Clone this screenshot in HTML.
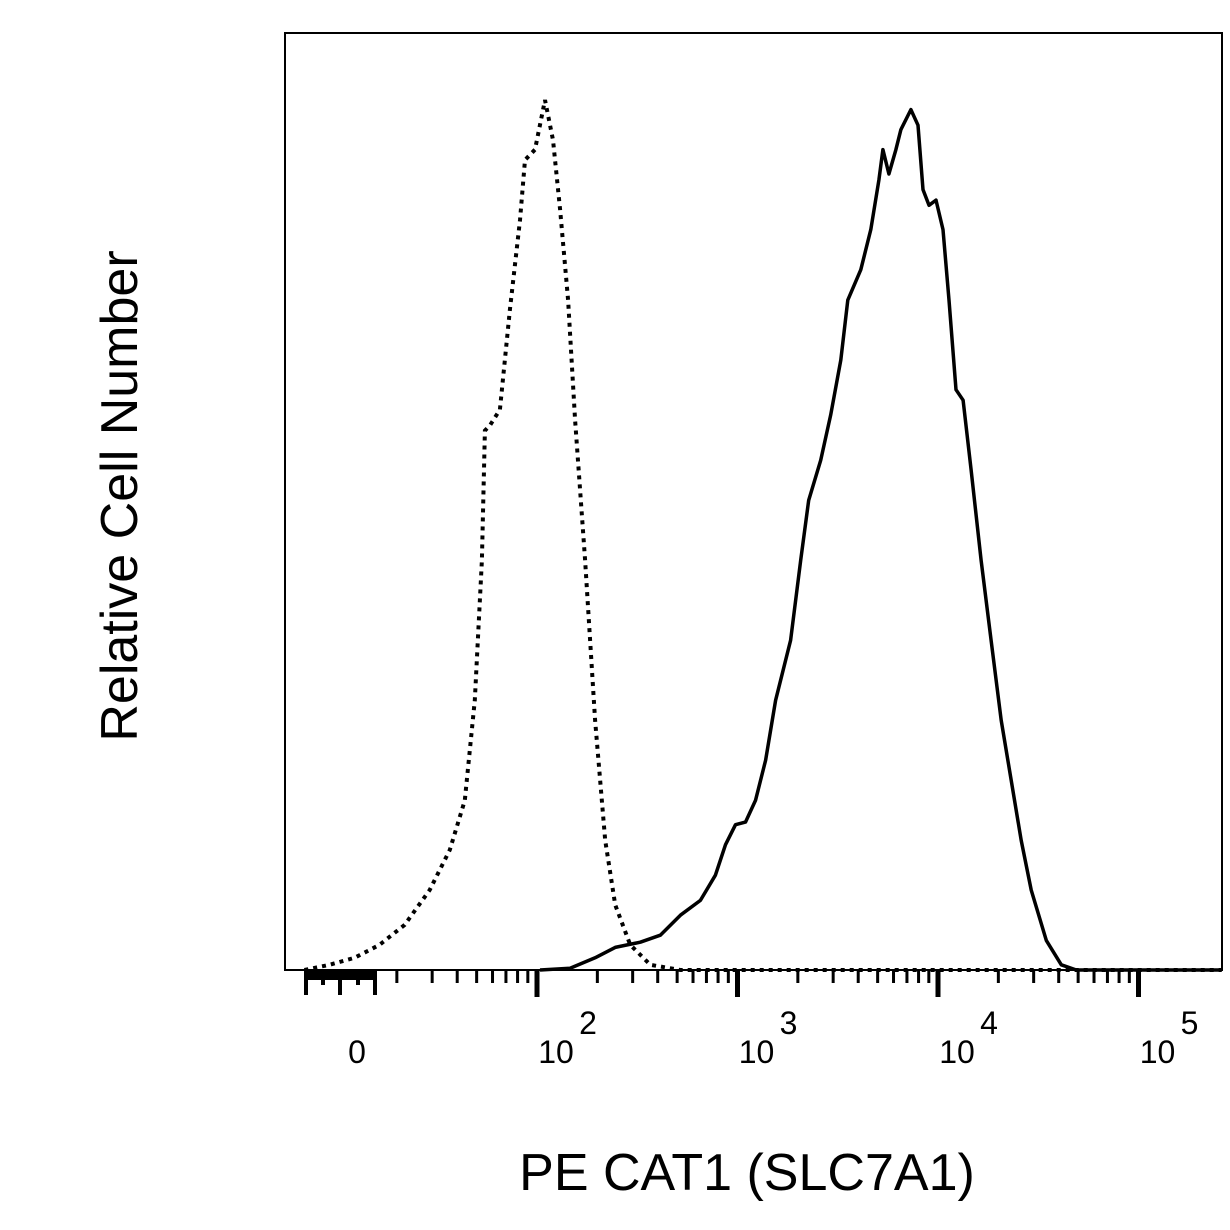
<!DOCTYPE html>
<html><head><meta charset="utf-8"><style>
body{margin:0;background:#fff}
svg{display:block;font-family:"Liberation Sans",Arial,sans-serif}
</style></head><body>
<svg width="1230" height="1230" viewBox="0 0 1230 1230">
<rect x="285" y="33" width="937" height="937" fill="none" stroke="#000" stroke-width="2"/>
<g id="ticks"></g>
<g id="labels"></g>
<g id="series"></g>
<text x="137" y="496" font-size="52" text-anchor="middle" transform="rotate(-90 137 496)">Relative Cell Number</text>
<text x="747" y="1190" font-size="52" text-anchor="middle">PE CAT1 (SLC7A1)</text>
</svg>
<script>
const isotypeX=[0.84,0.965,1.09,1.215,1.34,1.465,1.565,1.64,1.69,1.725,1.74,1.765,1.815,1.865,1.915,1.94,1.99,2.04,2.08,2.115,2.155,2.19,2.24,2.29,2.34,2.39,2.465,2.565,2.715,5.415];
const isotypeY=[0,0.6,1.4,2.9,5.2,9.2,13.8,19.5,31,47.1,62,62.6,64.4,75.9,86.2,93.1,94.3,100,95.4,87.4,77,63.2,47.1,28.7,14.9,7.5,2.9,0.6,0,0];
const stainedX=[2.015,2.165,2.29,2.39,2.515,2.615,2.715,2.815,2.89,2.94,2.99,3.04,3.09,3.14,3.19,3.265,3.315,3.355,3.415,3.465,3.515,3.55,3.615,3.665,3.705,3.725,3.755,3.79,3.815,3.865,3.9,3.925,3.955,3.99,4.025,4.055,4.09,4.125,4.165,4.215,4.265,4.315,4.365,4.415,4.465,4.54,4.615,4.69,5.415];
const stainedY=[0,0.2,1.4,2.6,3.2,4.0,6.3,8.0,10.9,14.4,16.7,17.0,19.5,24.1,31.0,37.9,47.1,54.0,58.6,63.8,70.1,77.0,80.5,85.1,90.8,94.3,91.5,94.3,96.6,98.9,97.1,89.7,87.9,88.5,85.1,77.0,66.7,65.5,57.5,47.1,37.9,28.7,21.8,14.9,9.2,3.4,0.6,0,0];
const decades=[2,3,4,5];
const decadeLabels=["2","3","4","5"];

const NS="http://www.w3.org/2000/svg";
const xS=d=>537+(d-2)*200.5;
const yS=v=>970-v*8.7;
function mk(tag,attrs,parent){const e=document.createElementNS(NS,tag);for(const k in attrs)e.setAttribute(k,attrs[k]);parent.appendChild(e);return e;}
const tg=document.getElementById('ticks');
const lg=document.getElementById('labels');
const sg=document.getElementById('series');
[306,323,340,358,375].forEach((x,i)=>{const t=mk('line',{x1:x,x2:x,y1:970,y2:i%2?985:995,stroke:'#000','stroke-width':4},tg);

});
mk('rect',{x:305,y:970,width:71,height:10,fill:'#000'},tg);
for(let d=1;d<5;d++){for(let k=2;k<=9;k++){const x=xS(d+Math.log10(k));if(x<395)continue;
const t=mk('line',{x1:x,x2:x,y1:970,y2:983,stroke:'#000','stroke-width':3},tg);

}}
decades.forEach((d,i)=>{const x=xS(d);
const t=mk('line',{x1:x,x2:x,y1:970,y2:997,stroke:'#000','stroke-width':5},tg);


const tx=mk('text',{x:x+19,y:1063,'font-size':32,'text-anchor':'middle'},lg);tx.textContent='10';


const sp=mk('text',{x:x+51,y:1034,'font-size':32,'text-anchor':'middle'},lg);sp.textContent=decadeLabels[i];

});
const z=mk('text',{x:357,y:1063,'font-size':32,'text-anchor':'middle'},lg);z.textContent='0';


function path(xs,ys){return xs.map((x,i)=>(i?'L':'M')+xS(x).toFixed(1)+','+yS(ys[i]).toFixed(1)).join(' ');}
const p1=mk('path',{d:path(isotypeX,isotypeY),fill:'none',stroke:'#000','stroke-width':4,'stroke-dasharray':'4 5'},sg);


const p2=mk('path',{d:path(stainedX,stainedY),fill:'none',stroke:'#000','stroke-width':3.5,'stroke-linejoin':'round'},sg);


</script>
</body></html>
